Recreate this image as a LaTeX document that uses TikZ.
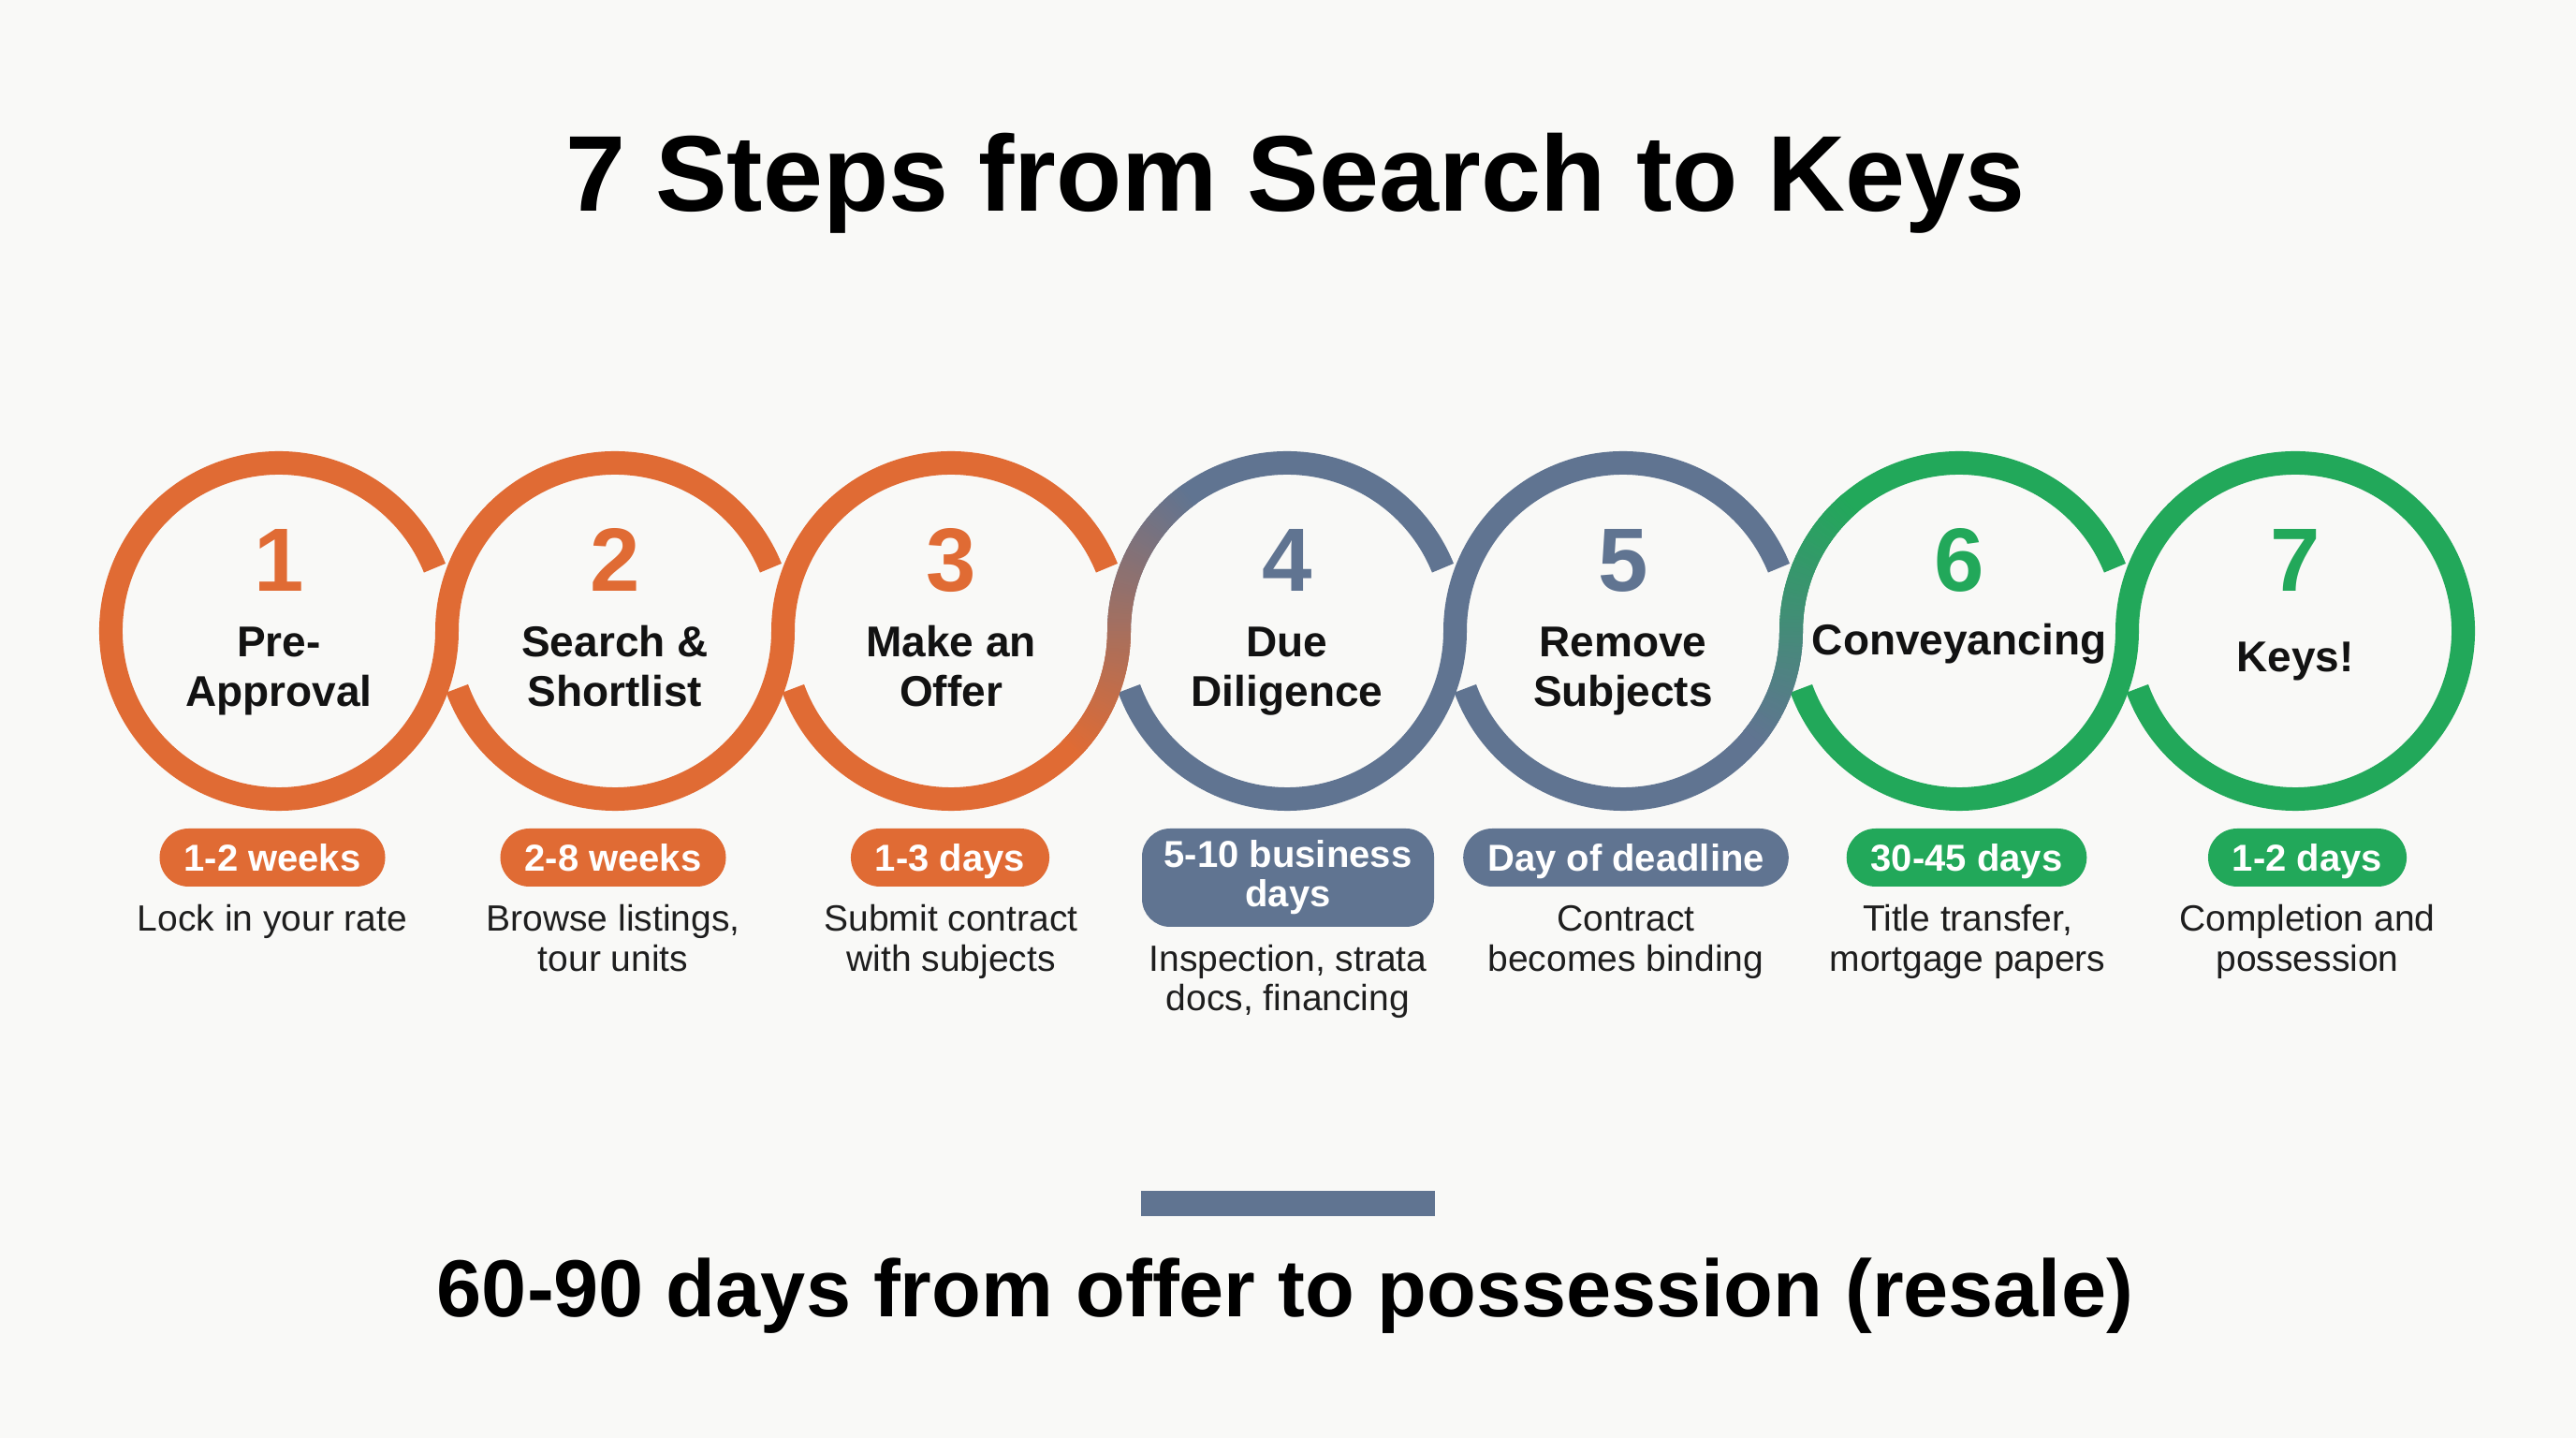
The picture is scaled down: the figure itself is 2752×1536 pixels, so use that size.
\documentclass[tikz,border=0pt]{standalone}
\usepackage{fontspec}
\setmainfont{Liberation Sans}
\definecolor{bg}{RGB}{249,249,247}
\definecolor{org}{RGB}{224,107,52}
\definecolor{slt}{RGB}{96,116,145}
\definecolor{grn}{RGB}{34,168,90}
\definecolor{ink}{RGB}{18,18,18}
\definecolor{txt}{RGB}{30,30,30}
\begin{document}
\begin{tikzpicture}[x=1pt,y=1pt,
  ringline/.style={line width=25pt, line cap=butt},
  numtext/.style={font=\bfseries\fontsize{96}{100}\selectfont, anchor=base, inner sep=0pt},
  labtext/.style={font=\bfseries\fontsize{46}{53}\selectfont, text=ink, anchor=base, inner sep=0pt},
  badge/.style={rounded corners=31pt, minimum height=62pt, inner xsep=26pt, inner ysep=0pt,
    text height=29pt, text depth=0pt, text=white, font=\bfseries\fontsize{40}{42}\selectfont},
  desc/.style={font=\fontsize{39}{43}\selectfont, text=txt, anchor=base, inner sep=0pt},
  titletext/.style={font=\bfseries\fontsize{115}{120}\selectfont, text=black, anchor=base, inner sep=0pt},
  foottext/.style={font=\bfseries\fontsize{86.5}{90}\selectfont, text=black, anchor=base, inner sep=0pt},
]
\def\R{179.5pt}
\fill[bg] (0,0) rectangle (2752,1536);
\useasboundingbox (0,0) rectangle (2752,1536);

% title
\node[titletext] (title) at (1384,1310) {7 Steps from Search to Keys};

% ring centres
\coordinate (c1) at (298,862);
\coordinate (c2) at (657,862);
\coordinate (c3) at (1016,862);
\coordinate (c4) at (1375,862);
\coordinate (c5) at (1734,862);
\coordinate (c6) at (2093,862);
\coordinate (c7) at (2452,862);

% ring 1
\draw[ringline,org] (c1) ++(22:\R) arc[start angle=22,end angle=360,radius=\R];
% ring 2
\draw[ringline,org] (c2) ++(22:\R) arc[start angle=22,end angle=180,radius=\R];
\draw[ringline,org] (c2) ++(200:\R) arc[start angle=200,end angle=360,radius=\R];
% ring 3
\draw[ringline,org] (c3) ++(22:\R) arc[start angle=22,end angle=180,radius=\R];
\draw[ringline,org] (c3) ++(200:\R) arc[start angle=200,end angle=360,radius=\R];
% ring 4
\draw[ringline,slt] (c4) ++(22:\R) arc[start angle=22,end angle=180,radius=\R];
\draw[ringline,slt] (c4) ++(200:\R) arc[start angle=200,end angle=360,radius=\R];
% ring 5
\draw[ringline,slt] (c5) ++(22:\R) arc[start angle=22,end angle=180,radius=\R];
\draw[ringline,slt] (c5) ++(200:\R) arc[start angle=200,end angle=360,radius=\R];
% ring 6
\draw[ringline,grn] (c6) ++(22:\R) arc[start angle=22,end angle=180,radius=\R];
\draw[ringline,grn] (c6) ++(200:\R) arc[start angle=200,end angle=360,radius=\R];
% ring 7
\draw[ringline,grn] (c7) ++(-160:\R) arc[start angle=-160,end angle=180,radius=\R];

% colour blend 3 -> 4
\foreach \a in {315,...,359}{
  \pgfmathtruncatemacro\t{(\a-315)*100/100}
  \pgfmathsetmacro\e{min(\a+1.6,360)}
  \draw[ringline,color=slt!\t!org] (c3) ++(\a:\R) arc[start angle=\a,end angle=\e,radius=\R];
}
\foreach \b in {125,...,179}{
  \pgfmathtruncatemacro\t{(45+180-\b)*100/100}
  \pgfmathsetmacro\e{min(\b+1.6,180)}
  \draw[ringline,color=slt!\t!org] (c4) ++(\b:\R) arc[start angle=\b,end angle=\e,radius=\R];
}
% colour blend 5 -> 6
\foreach \a in {320,...,359}{
  \pgfmathtruncatemacro\t{(\a-320)*100/90}
  \pgfmathsetmacro\e{min(\a+1.6,360)}
  \draw[ringline,color=grn!\t!slt] (c5) ++(\a:\R) arc[start angle=\a,end angle=\e,radius=\R];
}
\foreach \b in {130,...,179}{
  \pgfmathtruncatemacro\t{(40+180-\b)*100/90}
  \pgfmathsetmacro\e{min(\b+1.6,180)}
  \draw[ringline,color=grn!\t!slt] (c6) ++(\b:\R) arc[start angle=\b,end angle=\e,radius=\R];
}

% numbers
\node[numtext,text=org] (n1) at (298,904) {1};
\node[numtext,text=org] (n2) at (657,904) {2};
\node[numtext,text=org] (n3) at (1016,904) {3};
\node[numtext,text=slt] (n4) at (1375,904) {4};
\node[numtext,text=slt] (n5) at (1734,904) {5};
\node[numtext,text=grn] (n6) at (2093,904) {6};
\node[numtext,text=grn] (n7) at (2452,904) {7};

% labels
\node[labtext] (l1a) at (298,834) {Pre-};
\node[labtext] (l1b) at (298,781) {Approval};
\node[labtext] (l2a) at (657,834) {Search \&};
\node[labtext] (l2b) at (657,781) {Shortlist};
\node[labtext] (l3a) at (1016,834) {Make an};
\node[labtext] (l3b) at (1016,781) {Offer};
\node[labtext] (l4a) at (1375,834) {Due};
\node[labtext] (l4b) at (1375,781) {Diligence};
\node[labtext] (l5a) at (1734,834) {Remove};
\node[labtext] (l5b) at (1734,781) {Subjects};
\node[labtext] (l6a) at (2093,836) {Conveyancing};
\node[labtext] (l7a) at (2452,818) {Keys!};

% badges
\node[badge,fill=org] (b1) at (291,620) {1-2 weeks};
\node[badge,fill=org] (b2) at (655,620) {2-8 weeks};
\node[badge,fill=org] (b3) at (1015,620) {1-3 days};
\node[rounded corners=30pt, minimum width=312pt, minimum height=105pt, inner sep=0pt,
      fill=slt, text=white, align=center, font=\bfseries\fontsize{40}{42}\selectfont]
      (b4) at (1376,598.5) {5-10 business\\days};
\node[badge,fill=slt] (b5) at (1737,620) {Day of deadline};
\node[badge,fill=grn] (b6) at (2101,620) {30-45 days};
\node[badge,fill=grn] (b7) at (2465,620) {1-2 days};

% descriptions
\node[desc] (d1a) at (291,541) {Lock in your rate};
\node[desc] (d2a) at (655,541) {Browse listings,};
\node[desc] (d2b) at (655,498) {tour units};
\node[desc] (d3a) at (1016,541) {Submit contract};
\node[desc] (d3b) at (1016,498) {with subjects};
\node[desc] (d4a) at (1376,498) {Inspection, strata};
\node[desc] (d4b) at (1376,456) {docs, financing};
\node[desc] (d5a) at (1737,541) {Contract};
\node[desc] (d5b) at (1737,498) {becomes binding};
\node[desc] (d6a) at (2102,541) {Title transfer,};
\node[desc] (d6b) at (2102,498) {mortgage papers};
\node[desc] (d7a) at (2465,541) {Completion and};
\node[desc] (d7b) at (2465,498) {possession};

% footer
\fill[slt] (1219,237) rectangle (1533,264);
\node[foottext] (foot) at (1373,129) {60-90 days from offer to possession (resale)};
\end{tikzpicture}
\end{document}
